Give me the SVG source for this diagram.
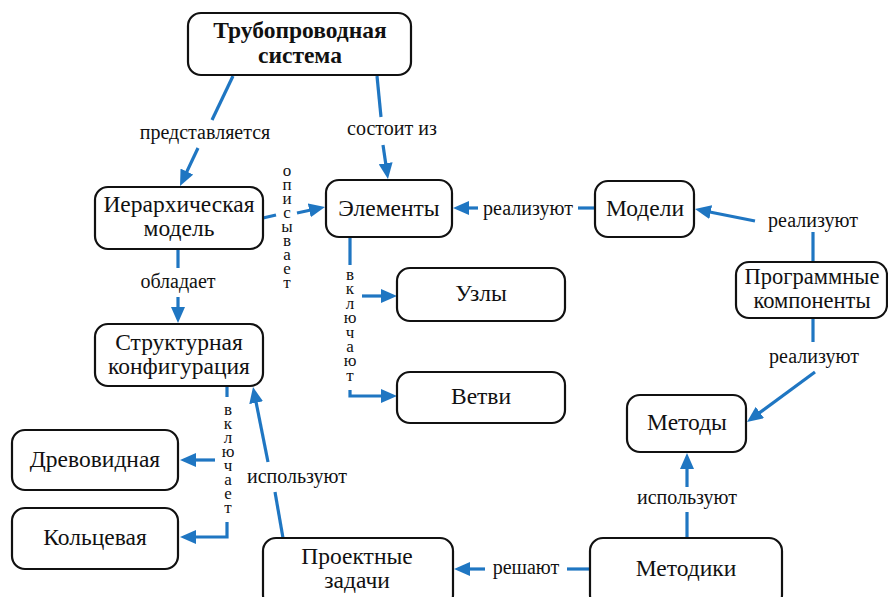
<svg xmlns="http://www.w3.org/2000/svg" width="888" height="597" viewBox="0 0 888 597">
<style>
.node rect{fill:#fff;stroke:#111;stroke-width:2.2}
.nt{font-family:'Liberation Serif','Times New Roman',serif;font-size:23.5px;fill:#111;text-anchor:middle}
.bt{font-weight:bold}
.lb{font-family:'Liberation Serif','Times New Roman',serif;font-size:20px;fill:#111;text-anchor:middle}
.vt{font-family:'Liberation Serif','Times New Roman',serif;font-size:17px;fill:#111;text-anchor:middle}
.c{fill:none;stroke:#1f76c2;stroke-width:3.2}
</style>
<defs>
<marker id="ah" viewBox="0 0 16 14" refX="10" refY="7" markerWidth="16" markerHeight="14" markerUnits="userSpaceOnUse" orient="auto">
<path d="M0,0 L16,7 L0,14 z" fill="#1f76c2"/>
</marker>
</defs>
<rect width="888" height="597" fill="#fff"/>
<g id="connectors">
<path class="c" d="M233,76 L212,120"/>
<path class="c" d="M198,148 L182.6,180.6" marker-end="url(#ah)"/>
<text class="lb" x="205" y="139">представляется</text>
<path class="c" d="M377,76 L381,117"/>
<path class="c" d="M383,145 L387.1,173.1" marker-end="url(#ah)"/>
<text class="lb" x="392" y="135">состоит из</text>
<path class="c" d="M263,218 L276,215"/>
<path class="c" d="M297,213 L319.1,208.3" marker-end="url(#ah)"/>
<g class="vt">
<text x="287" y="176">о</text><text x="287" y="190">п</text><text x="287" y="204">и</text><text x="287" y="218">с</text><text x="287" y="232">ы</text><text x="287" y="246">в</text><text x="287" y="260">а</text><text x="287" y="274">е</text><text x="287" y="288">т</text>
</g>
<path class="c" d="M178,249 L178,268"/>
<path class="c" d="M178,297 L178,317" marker-end="url(#ah)"/>
<text class="lb" x="178" y="288">обладает</text>
<path class="c" d="M350,237 L350,265"/>
<path class="c" d="M350,390 L350,396 L391,396" marker-end="url(#ah)"/>
<path class="c" d="M362,296 L391,296" marker-end="url(#ah)"/>
<g class="vt">
<text x="350" y="280">в</text><text x="350" y="294.4">к</text><text x="350" y="308.8">л</text><text x="350" y="323.2">ю</text><text x="350" y="337.6">ч</text><text x="350" y="352">а</text><text x="350" y="366.4">ю</text><text x="350" y="380.8">т</text>
</g>
<path class="c" d="M595,208 L578,208"/>
<path class="c" d="M478,208 L459,208" marker-end="url(#ah)"/>
<text class="lb" x="528" y="215">реализуют</text>
<path class="c" d="M813,262 L813,232"/>
<path class="c" d="M755,221 L700.9,210.2" marker-end="url(#ah)"/>
<text class="lb" x="813" y="227">реализуют</text>
<path class="c" d="M813,318 L813,342"/>
<path class="c" d="M815,372 L751.8,418.4" marker-end="url(#ah)"/>
<text class="lb" x="814" y="363">реализуют</text>
<path class="c" d="M687,538 L687,512"/>
<path class="c" d="M687,487 L687,459" marker-end="url(#ah)"/>
<text class="lb" x="687" y="504">используют</text>
<path class="c" d="M590,569 L567,569"/>
<path class="c" d="M485,569 L460,569" marker-end="url(#ah)"/>
<text class="lb" x="526" y="574">решают</text>
<path class="c" d="M283,538 L275,492"/>
<path class="c" d="M268,462 L254.2,392.9" marker-end="url(#ah)"/>
<text class="lb" x="297" y="483">используют</text>
<path class="c" d="M227,386 L227,397"/>
<path class="c" d="M227,522 L227,537 L186,537" marker-end="url(#ah)"/>
<path class="c" d="M215,460 L186,460" marker-end="url(#ah)"/>
<g class="vt">
<text x="228" y="415">в</text><text x="228" y="429">к</text><text x="228" y="443">л</text><text x="228" y="457">ю</text><text x="228" y="471">ч</text><text x="228" y="485">а</text><text x="228" y="499">е</text><text x="228" y="513">т</text>
</g>
</g>
<g id="n-top" class="node"><rect x="188" y="13" width="223" height="62" rx="13"/><text class="nt bt" x="300" y="38">Трубопроводная</text><text class="nt bt" x="300" y="63">система</text></g>
<g id="n-hier" class="node"><rect x="95" y="187" width="168" height="62" rx="13"/><text class="nt" x="179" y="212">Иерархическая</text><text class="nt" x="179" y="236">модель</text></g>
<g id="n-elem" class="node"><rect x="326" y="180" width="126" height="57" rx="13"/><text class="nt" x="389" y="216">Элементы</text></g>
<g id="n-models" class="node"><rect x="595" y="181" width="99" height="56" rx="13"/><text class="nt" x="645" y="216">Модели</text></g>
<g id="n-prog" class="node"><rect x="736" y="262" width="151" height="56" rx="13"/><text class="nt" style="font-size:22.5px" x="812" y="284">Программные</text><text class="nt" style="font-size:22.5px" x="812" y="308">компоненты</text></g>
<g id="n-nodes" class="node"><rect x="397" y="268" width="168" height="53" rx="13"/><text class="nt" x="481" y="301">Узлы</text></g>
<g id="n-branches" class="node"><rect x="397" y="372" width="168" height="51" rx="13"/><text class="nt" x="481" y="404">Ветви</text></g>
<g id="n-struct" class="node"><rect x="95" y="324" width="168" height="62" rx="13"/><text class="nt" x="179" y="350">Структурная</text><text class="nt" x="179" y="374">конфигурация</text></g>
<g id="n-tree" class="node"><rect x="12" y="430" width="166" height="60" rx="13"/><text class="nt" x="95" y="467">Древовидная</text></g>
<g id="n-ring" class="node"><rect x="12" y="508" width="166" height="61" rx="13"/><text class="nt" x="95" y="545">Кольцевая</text></g>
<g id="n-tasks" class="node"><rect x="263" y="538" width="190" height="70" rx="13"/><text class="nt" x="357" y="564">Проектные</text><text class="nt" x="357" y="588">задачи</text></g>
<g id="n-methods" class="node"><rect x="627" y="395" width="119" height="57" rx="13"/><text class="nt" x="687" y="430">Методы</text></g>
<g id="n-techniques" class="node"><rect x="590" y="538" width="192" height="70" rx="13"/><text class="nt" x="686" y="576">Методики</text></g>
</svg>
